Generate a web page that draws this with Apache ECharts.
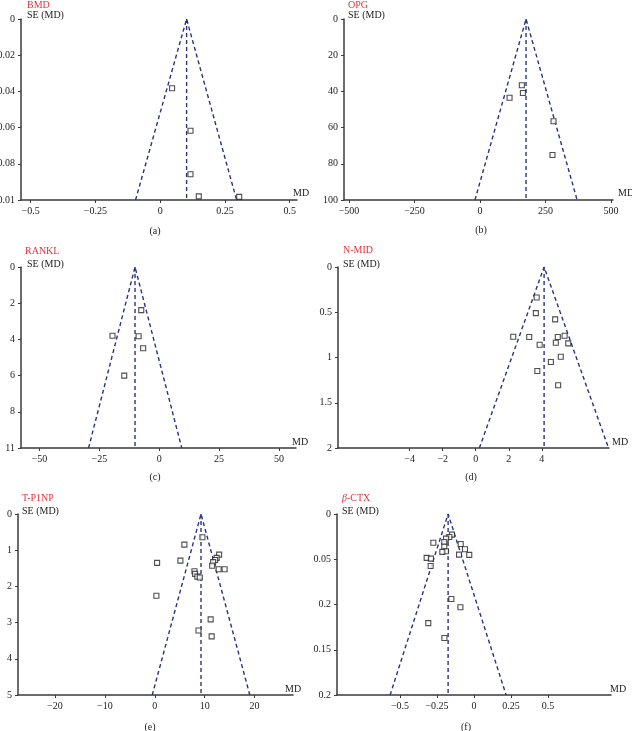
<!DOCTYPE html>
<html><head><meta charset="utf-8">
<script src="https://cdn.jsdelivr.net/npm/echarts@6/dist/echarts.min.js"></script>
<style>html,body{margin:0;padding:0;background:#fff}#c{width:632px;height:731px}</style>
</head><body><div id="c"></div>
<script>
// ---- data ----
// (a) BMD
const bmdMD = [0.046, 0.117, 0.117, 0.149, 0.305];
const bmdSE = [0.0383, 0.0617, 0.0858, 0.098, 0.0983];
const bmdFunnel = [-0.095, 0.102, 0.295]; // left foot, pooled, right foot
const bmdSEMax = 0.1;
const bmdYLabels = ['0', '0.02', '0.04', '0.06', '0.08', '0.01'];
const bmdXTicks = [-0.5, -0.25, 0, 0.25, 0.5];

// (b) OPG
const opgMD = [113, 160, 164, 281, 277];
const opgSE = [43.5, 36.6, 40.9, 56.5, 75.1];
const opgFunnel = [-19, 176, 371];
const opgSEMax = 100;
const opgYLabels = ['0', '20', '40', '60', '80', '100'];
const opgXTicks = [-500, -250, 0, 250, 500];

// (c) RANKL
const rankMD = [-7.5, -19.5, -8.6, -6.7, -14.6];
const rankSE = [2.38, 3.80, 3.83, 4.49, 6.0];
const rankFunnel = [-29.5, -10.1, 9.4];
const rankSEMax = 10;
const rankYLabels = ['0', '2', '4', '6', '8', '11'];
const rankXTicks = [-50, -25, 0, 25, 50];

// (d) N-MID
const nmidMD = [3.69, 3.64, 4.81, 2.27, 3.24, 3.87, 4.97, 5.38, 4.85, 5.60, 5.15, 4.55, 3.73, 4.99];
const nmidSE = [0.337, 0.51, 0.579, 0.771, 0.774, 0.859, 0.774, 0.76, 0.837, 0.844, 0.991, 1.05, 1.149, 1.306];
const nmidFunnel = [0.22, 4.14, 8.04];
const nmidSEMax = 2;
const nmidYLabels = ['0', '0.5', '1', '1.5', '2'];
const nmidXTicks = [-4, -2, 0, 2, 4];

// (e) T-P1NP
const tp1npMD = [9.55, 5.94, 12.9, 12.4, 12.1, 11.7, 11.5, 12.8, 14.0, 5.14, 0.47, 7.95, 8.09, 8.55, 9.03, 0.33, 11.2, 8.76, 11.4];
const tp1npSE = [0.642, 0.846, 1.122, 1.213, 1.27, 1.33, 1.43, 1.525, 1.525, 1.288, 1.35, 1.58, 1.654, 1.729, 1.756, 2.26, 2.91, 3.22, 3.38];
const tp1npFunnel = [-0.5, 9.27, 19.05];
const tp1npSEMax = 5;
const tp1npYLabels = ['0', '1', '2', '3', '4', '5'];
const tp1npXTicks = [-20, -10, 0, 10, 20];

// (f) β-CTX
const ctxMD = [-0.149, -0.167, -0.189, -0.275, -0.201, -0.09, -0.061, -0.201, -0.189, -0.214, -0.101, -0.032, -0.32, -0.291, -0.293, -0.153, -0.092, -0.309, -0.2];
const ctxSE = [0.0228, 0.0254, 0.0272, 0.0317, 0.0309, 0.0331, 0.0389, 0.0361, 0.0411, 0.0419, 0.0449, 0.0452, 0.0485, 0.0493, 0.0574, 0.094, 0.103, 0.1206, 0.137];
const ctxFunnel = [-0.567, -0.175, 0.217];
const ctxSEMax = 0.2;
const ctxYLabels = ['0', '0.05', '0.2', '0.15', '0.2'];
const ctxXTicks = [-0.5, -0.25, 0, 0.25, 0.5];

// ---- layout ----
const FONT = '"Liberation Serif", "DejaVu Serif", serif';
const FUNNEL_COLOR = '#283382';
const AXIS_COLOR = '#3a3a3a';

const panels = [
  {md: bmdMD, se: bmdSE, funnel: bmdFunnel, seMax: bmdSEMax, yLabels: bmdYLabels, xTicks: bmdXTicks,
   grid: {left: 21, top: 19, width: 276, height: 181}, xMin: -0.537, xMax: 0.528,
   title: 'BMD', tx: 27, ty: 5, sx: 27, sy: 15, mdx: 293, mdy: 193, cap: '(a)', cx: 155, cy: 231},
  {md: opgMD, se: opgSE, funnel: opgFunnel, seMax: opgSEMax, yLabels: opgYLabels, xTicks: opgXTicks,
   grid: {left: 344, top: 19, width: 269, height: 181}, xMin: -519, xMax: 508,
   title: 'OPG', tx: 348, ty: 5, sx: 348, sy: 15, mdx: 618, mdy: 193, cap: '(b)', cx: 481, cy: 230},
  {md: rankMD, se: rankSE, funnel: rankFunnel, seMax: rankSEMax, yLabels: rankYLabels, xTicks: rankXTicks,
   grid: {left: 21, top: 267, width: 275, height: 181}, xMin: -57.7, xMax: 57.1,
   title: 'RANKL', tx: 25, ty: 251, sx: 27, sy: 264, mdx: 292, mdy: 442, cap: '(c)', cx: 155, cy: 477},
  {md: nmidMD, se: nmidSE, funnel: nmidFunnel, seMax: nmidSEMax, yLabels: nmidYLabels, xTicks: nmidXTicks,
   grid: {left: 338, top: 267, width: 271, height: 181}, xMin: -8.34, xMax: 8.07,
   title: 'N-MID', tx: 343, ty: 250, sx: 343, sy: 264, mdx: 612, mdy: 442, cap: '(d)', cx: 471, cy: 477},
  {md: tp1npMD, se: tp1npSE, funnel: tp1npFunnel, seMax: tp1npSEMax, yLabels: tp1npYLabels, xTicks: tp1npXTicks,
   grid: {left: 18, top: 514, width: 275, height: 181}, xMin: -27.4, xMax: 27.7,
   title: 'T-P1NP', tx: 22, ty: 498, sx: 22, sy: 511, mdx: 285, mdy: 689, cap: '(e)', cx: 150, cy: 727},
  {md: ctxMD, se: ctxSE, funnel: ctxFunnel, seMax: ctxSEMax, yLabels: ctxYLabels, xTicks: ctxXTicks,
   grid: {left: 337, top: 514, width: 274, height: 181}, xMin: -0.926, xMax: 0.926,
   title: '{i|β}-CTX', tx: 342, ty: 498, sx: 342, sy: 511, mdx: 610, mdy: 689, cap: '(f)', cx: 466, cy: 727}
];

function fmtX(v) {
  return (v < 0 ? '\u2212' : '') + String(Math.abs(v));
}

const grids = [], xAxes = [], yAxes = [], series = [], graphics = [];
panels.forEach((p, i) => {
  grids.push(Object.assign({outerBoundsMode: 'none', containLabel: false}, p.grid));
  xAxes.push({
    type: 'value', gridIndex: i, min: p.xMin, max: p.xMax, position: 'bottom',
    splitLine: {show: false},
    axisLine: {show: true, onZero: false, lineStyle: {color: AXIS_COLOR, width: 1.5}},
    axisTick: {show: true, length: 3, customValues: p.xTicks, lineStyle: {color: AXIS_COLOR}},
    axisLabel: {show: true, customValues: p.xTicks, formatter: fmtX, color: '#222',
      fontFamily: FONT, fontSize: 10, margin: 6}
  });
  const interval = p.seMax / (p.yLabels.length - 1);
  yAxes.push({
    type: 'value', gridIndex: i, min: 0, max: p.seMax, interval: interval, inverse: true,
    splitLine: {show: false},
    axisLine: {show: true, onZero: false, lineStyle: {color: AXIS_COLOR, width: 1.5}},
    axisTick: {show: true, length: 3, lineStyle: {color: AXIS_COLOR}},
    axisLabel: {show: true, color: '#222', fontFamily: FONT, fontSize: 10, margin: 6,
      formatter: (v) => p.yLabels[Math.round(v / interval)]}
  });
  const dashed = {color: FUNNEL_COLOR, width: 1.4, type: [4, 3]};
  series.push({
    type: 'line', xAxisIndex: i, yAxisIndex: i, silent: true, showSymbol: false, animation: false,
    lineStyle: dashed,
    data: [[p.funnel[0], p.seMax], [p.funnel[1], 0], [p.funnel[2], p.seMax]]
  });
  series.push({
    type: 'line', xAxisIndex: i, yAxisIndex: i, silent: true, showSymbol: false, animation: false,
    lineStyle: dashed,
    data: [[p.funnel[1], 0], [p.funnel[1], p.seMax]]
  });
  series.push({
    type: 'scatter', xAxisIndex: i, yAxisIndex: i, animation: false,
    symbol: 'rect', symbolSize: 5,
    itemStyle: {color: '#fff', borderColor: '#222', borderWidth: 1.1},
    data: p.md.map((m, k) => [m, p.se[k]]),
    z: 5
  });
  graphics.push({type: 'text', x: p.tx, y: p.ty, silent: true,
    style: {text: p.title, fill: '#e8313b', font: '10px ' + FONT, textVerticalAlign: 'middle', verticalAlign: 'middle',
      rich: {i: {fontStyle: 'italic', fill: '#e8313b', fontFamily: FONT, fontSize: 10}}}});
  graphics.push({type: 'text', x: p.sx, y: p.sy, silent: true,
    style: {text: 'SE (MD)', fill: '#222', font: '10px ' + FONT, textVerticalAlign: 'middle', verticalAlign: 'middle'}});
  graphics.push({type: 'text', x: p.mdx, y: p.mdy, silent: true,
    style: {text: 'MD', fill: '#222', font: '10px ' + FONT, textVerticalAlign: 'middle', verticalAlign: 'middle'}});
  graphics.push({type: 'text', x: p.cx, y: p.cy, silent: true,
    style: {text: p.cap, fill: '#222', font: '10px ' + FONT, textAlign: 'center', align: 'center',
      textVerticalAlign: 'middle', verticalAlign: 'middle'}});
});

const chart = echarts.init(document.getElementById('c'), null, {renderer: 'canvas'});
chart.setOption({
  backgroundColor: '#fff',
  animation: false,
  grid: grids,
  xAxis: xAxes,
  yAxis: yAxes,
  series: series,
  graphic: graphics
});
</script>
</body></html>
